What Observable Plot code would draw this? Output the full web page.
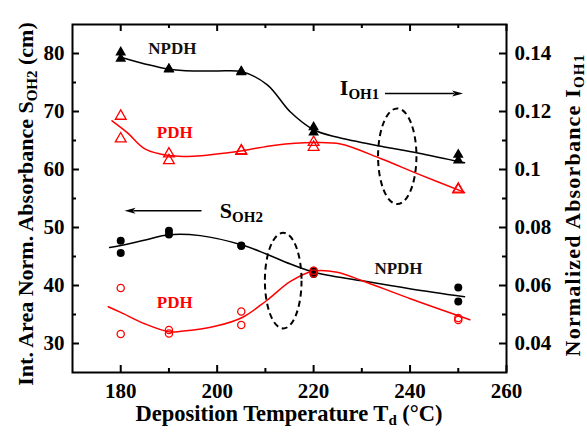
<!DOCTYPE html>
<html><head><meta charset="utf-8">
<script src="https://cdn.jsdelivr.net/npm/d3@7"></script>
<script src="https://cdn.jsdelivr.net/npm/@observablehq/plot@0.6"></script>
<style>body{margin:0;background:#fff}</style>
</head><body><div id="chart"></div>
<script>
// ---- data ----
const temps = [180, 180, 190, 190, 205, 205, 220, 220, 250, 250];
// Normalized absorbance I_OH1 (right axis)
const iOH1_NPDH = [0.1404, 0.1382, 0.1347, 0.1345, 0.1338, 0.1336, 0.1146, 0.1128, 0.1051, 0.1031];
const iOH1_PDH  = [0.1184, 0.1106, 0.1054, 0.1031, 0.1065, 0.1063, 0.1094, 0.1077, 0.0933, 0.0930];
// Int. area normalized absorbance S_OH2 (left axis, cm)
const sOH2_NPDH = [47.7, 45.6, 49.45, 48.8, 46.9, 46.8, 42.55, 41.98, 39.67, 37.25];
const sOH2_PDH  = [39.56, 31.63, 32.32, 31.73, 35.53, 33.18, 42.55, 42.08, 34.39, 34.04];

// fitted guide curves
const fitI_NPDH_T = [180, 185, 190, 195, 200, 205.2, 210.4, 215.2, 220, 225, 234, 241.6, 251.3];
const fitI_NPDH   = [0.1387, 0.1364, 0.1346, 0.1340, 0.1340, 0.1337, 0.1292, 0.1198, 0.1137, 0.1111, 0.108, 0.1057, 0.1023];
const fitI_PDH_T  = [178.2, 181.3, 185, 190, 195, 205.2, 212, 220, 225.6, 234, 241.6, 251.3];
const fitI_PDH    = [0.1168, 0.1128, 0.1071, 0.1048, 0.1046, 0.1065, 0.1084, 0.1093, 0.1088, 0.1037, 0.0985, 0.0921];
const fitS_NPDH_T = [177.7, 180, 185.1, 190, 196.5, 205.2, 210.2, 215.2, 220, 230.1, 240.2, 251.3];
const fitS_NPDH   = [46.55, 46.9, 47.85, 48.76, 48.6, 46.98, 45.43, 43.7, 42.3, 40.8, 39.4, 38.06];
const fitS_PDH_T  = [177.4, 180, 185.1, 190, 192.5, 200, 205.2, 210.2, 215.2, 220, 224.9, 230.1, 240.2, 252.4];
const fitS_PDH    = [36.34, 35.36, 33.35, 32.02, 32.1, 33.06, 34.49, 37.37, 40.7, 42.5, 42.3, 40.82, 37.67, 34.1];

// axes
const xDomain = [170, 260];
const yDomain = [25, 85];          // left axis S_OH2 (cm)
const rightDomain = [0.03, 0.15];  // right axis I_OH1
const xMajor = [180, 200, 220, 240, 260];
const xMinor = [190, 210, 230, 250];
const yMajor = [30, 40, 50, 60, 70, 80];
const yMinor = [35, 45, 55, 65, 75];

// annotations
const seriesLabels = ["NPDH", "PDH", "PDH", "NPDH"];
const seriesLabelX = [190.7, 191.2, 191.2, 237.6];
const seriesLabelY = [80.86, 66.41, 37.08, 42.95];
const seriesLabelColor = ["#111", "#ff0000", "#ff0000", "#111"];
const ellipseCx = [237.45, 213.8];
const ellipseCy = [62.2, 40.75];
const ellipseRx = [3.98, 3.8];
const ellipseRy = [8.25, 8.25];
const arrowX1 = [234.9, 196.85];
const arrowX2 = [251.1, 180.9];
const arrowY  = [73.0, 52.8];

// ---- helpers ----
const toLeft = r => yDomain[0] + (r - rightDomain[0]) * (yDomain[1] - yDomain[0]) / (rightDomain[1] - rightDomain[0]);
const fmtRight = l => String(+(rightDomain[0] + (l - yDomain[0]) * (rightDomain[1] - rightDomain[0]) / (yDomain[1] - yDomain[0])).toFixed(3));
const FONT = "'Liberation Serif', 'Times New Roman', serif";

function rich(g, x, y, parts, {size = 22, subSize = 15, shift = 4, rotate = 0, anchor = "start", fill = "#000", spacing = 0} = {}) {
  const t = g.append("text")
    .attr("transform", `translate(${x},${y})` + (rotate ? ` rotate(${rotate})` : ""))
    .attr("text-anchor", anchor).attr("font-size", size).attr("font-weight", "bold")
    .attr("font-family", FONT).attr("fill", fill).attr("letter-spacing", spacing);
  let prev = false;
  for (const [s, sub] of parts) {
    const ts = t.append("tspan").text(s);
    if (sub && !prev) ts.attr("dy", shift).attr("font-size", subSize);
    else if (sub) ts.attr("font-size", subSize);
    else if (prev) ts.attr("dy", -shift);
    prev = sub;
  }
}

const W = 587, H = 441, mL = 72, mR = 81, mT = 24, mB = 69;
const pw = W - mL - mR, ph = H - mT - mB;
const idx = n => d3.range(n);
const curve = "catmull-rom";

const plot = Plot.plot({
  width: W, height: H,
  marginLeft: mL, marginRight: mR, marginTop: mT, marginBottom: mB,
  x: {domain: xDomain},
  y: {domain: yDomain},
  style: {fontFamily: FONT, background: "#fff", color: "#000"},
  marks: [
    // curves
    Plot.line(idx(fitI_NPDH_T.length), {x: i => fitI_NPDH_T[i], y: i => toLeft(fitI_NPDH[i]), curve, stroke: "#000", strokeWidth: 1.5}),
    Plot.line(idx(fitI_PDH_T.length), {x: i => fitI_PDH_T[i], y: i => toLeft(fitI_PDH[i]), curve, stroke: "#ff0000", strokeWidth: 1.5}),
    Plot.line(idx(fitS_NPDH_T.length), {x: i => fitS_NPDH_T[i], y: i => fitS_NPDH[i], curve, stroke: "#000", strokeWidth: 1.5}),
    Plot.line(idx(fitS_PDH_T.length), {x: i => fitS_PDH_T[i], y: i => fitS_PDH[i], curve, stroke: "#ff0000", strokeWidth: 1.5}),
    // points
    Plot.dot(idx(temps.length), {x: i => temps[i], y: i => toLeft(iOH1_NPDH[i]), symbol: "triangle", r: 4, fill: "#000"}),
    Plot.dot(idx(temps.length), {x: i => temps[i], y: i => toLeft(iOH1_PDH[i]), symbol: "triangle", r: 4, fill: "none", stroke: "#ff0000", strokeWidth: 1.3}),
    Plot.dot(idx(temps.length), {x: i => temps[i], y: i => sOH2_NPDH[i], r: 4, fill: "#000"}),
    Plot.dot(idx(temps.length), {x: i => temps[i], y: i => sOH2_PDH[i], r: 3.6, fill: "none", stroke: "#ff0000", strokeWidth: 1.3}),
    // series labels
    Plot.text(idx(seriesLabels.length), {x: i => seriesLabelX[i], y: i => seriesLabelY[i], text: i => seriesLabels[i], fill: i => seriesLabelColor[i], fontSize: 17, fontWeight: "bold"}),
    // ellipses & arrows & subscripted labels
    (index, scales) => {
      const g = d3.create("svg:g");
      for (let i = 0; i < ellipseCx.length; i++) {
        const cx = scales.x(ellipseCx[i]), cy = scales.y(ellipseCy[i]);
        const rx = Math.abs(scales.x(ellipseCx[i] + ellipseRx[i]) - cx);
        const ry = Math.abs(scales.y(ellipseCy[i] + ellipseRy[i]) - cy);
        g.append("ellipse").attr("cx", cx).attr("cy", cy).attr("rx", rx).attr("ry", ry)
          .attr("fill", "none").attr("stroke", "#000").attr("stroke-width", 2).attr("stroke-dasharray", "6,4");
      }
      for (let i = 0; i < arrowX1.length; i++) {
        const x1 = scales.x(arrowX1[i]), x2 = scales.x(arrowX2[i]), y = scales.y(arrowY[i]);
        const s = Math.sign(x2 - x1), hl = 11, hw = 3;
        g.append("line").attr("x1", x1).attr("x2", x2 - s * hl * 0.8).attr("y1", y).attr("y2", y)
          .attr("stroke", "#000").attr("stroke-width", 1.5);
        g.append("path").attr("d", `M${x2},${y}L${x2 - s * hl},${y - hw}L${x2 - s * hl * 0.75},${y}L${x2 - s * hl},${y + hw}Z`).attr("fill", "#000");
      }
      rich(g, scales.x(225.55), scales.y(72.75), [["I", false], ["OH1", true]], {size: 22, subSize: 15, shift: 4});
      rich(g, scales.x(200.65), scales.y(51.47), [["S", false], ["OH2", true]], {size: 22, subSize: 15, shift: 4});
      return g.node();
    },
    // frame and ticks (inward)
    Plot.frame({stroke: "#000", strokeWidth: 2}),
    Plot.tickY(yMajor, {y: d => d, insetRight: pw - 7, strokeWidth: 2}),
    Plot.tickY(yMinor, {y: d => d, insetRight: pw - 4, strokeWidth: 2}),
    Plot.tickY(yMajor, {y: d => d, insetLeft: pw - 7, strokeWidth: 2}),
    Plot.tickY(yMinor, {y: d => d, insetLeft: pw - 4, strokeWidth: 2}),
    Plot.tickX(xMajor, {x: d => d, insetTop: ph - 7, strokeWidth: 2}),
    Plot.tickX(xMinor, {x: d => d, insetTop: ph - 4, strokeWidth: 2}),
    Plot.tickX(xMajor, {x: d => d, insetBottom: ph - 7, strokeWidth: 2}),
    Plot.tickX(xMinor, {x: d => d, insetBottom: ph - 4, strokeWidth: 2}),
    // axis labels
    Plot.axisY({anchor: "left", ticks: yMajor, tickSize: 0, tickPadding: 8, fontSize: 21, fontWeight: "bold", label: null}),
    Plot.axisY({anchor: "right", ticks: yMajor, tickSize: 0, tickPadding: 8, tickFormat: fmtRight, fontSize: 21, fontWeight: "bold", label: null}),
    Plot.axisX({anchor: "bottom", ticks: xMajor, tickSize: 0, tickPadding: 11, fontSize: 21, fontWeight: "bold", label: null}),
    // axis titles
    () => {
      const g = d3.create("svg:g");
      rich(g, 33, 204, [["Int. Area Norm. Absorbance S", false], ["OH2", true], [" (cm)", false]], {size: 22, subSize: 15, shift: 4, rotate: -90, anchor: "middle"});
      rich(g, 580, 205, [["Normalized Absorbance I", false], ["OH1", true]], {size: 22, subSize: 15, shift: 4, rotate: -90, anchor: "middle", spacing: 1.2});
      rich(g, 289, 421, [["Deposition Temperature T", false], ["d", true], [" (°C)", false]], {size: 22.5, subSize: 15, shift: 4, anchor: "middle"});
      return g.node();
    }
  ]
});
document.getElementById("chart").appendChild(plot);
</script></body></html>
